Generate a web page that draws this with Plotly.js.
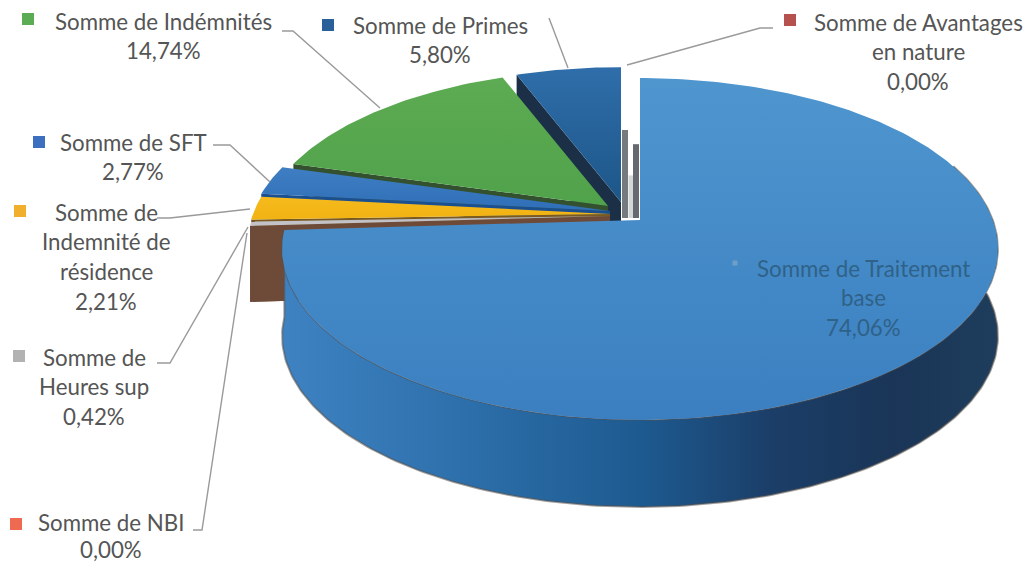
<!DOCTYPE html>
<html><head><meta charset="utf-8">
<script src="https://cdn.plot.ly/plotly-3.0.1.min.js"></script>
<style>html,body{margin:0;padding:0;background:#fff;overflow:hidden}#c{width:1024px;height:564px}</style>
</head><body><div id="c"></div>
<script>
// ---- data (percent) ----
const categories = ["Somme de Traitement base","Somme de NBI","Somme de Heures sup","Somme de Indemnité de résidence","Somme de SFT","Somme de Indémnités","Somme de Primes","Somme de Avantages en nature"];
const values = [74.06,0,0.42,2.21,2.77,14.74,5.80,0];

// ---- label text, line by line (the percent line is formatted from values) ----
const labelLines = [
  ["Somme de Traitement","base"],
  ["Somme de NBI"],
  ["Somme de","Heures sup"],
  ["Somme de","Indemnité de","résidence"],
  ["Somme de SFT"],
  ["Somme de Indémnités"],
  ["Somme de Primes"],
  ["Somme de Avantages","en nature"]
];

// ---- layout of the drawing, separate from the data ----
const labelPos = [[863,268],[111,522],[94,357],[106,212],[133,142],[163,21],[440,25],[918,22]];
const keyPos = [[735,263],[16,524],[19,356],[20,211],[39,142],[28,19],[328,25],[790,20]];
const keyColors = ["#6f9fc9","#ee6a50","#b2b2b2","#f0b02c","#3c6fc0","#5cab55","#2a6099","#b5524f"];
const apex = [[640,220],[610,216],[610,216],[610,214],[610,211],[608,206],[621,202],[625,218]];
const scaleR = [1,1,1,1,1,0.96,0.95,1];
const scaleXMain = 0.988;
const wallDepth = [87,76,76,12,12,30,60,0];
const topFill = [
  ["#4f96cf","#3b7fc0"],null,["#c2c2c8","#b4b4bc"],["#f6bb1e","#f2b414"],
  ["#3f7ec2","#2f6fb8"],["#5dab52","#50a24b"],["#2f6eaa","#1d5688"],null
];
const faceColors = ["#000",null,"#6e4a38","#7a5a20","#1a4f90","#33502f","#1b2f47",null];
const leaders = [
  [[282,31],[293,31],[380,108]],
  [[549,18],[568,68]],
  [[773,28],[760,28],[627,65]],
  [[213,145],[230,145],[270,182]],
  [[157,218],[170,218],[250,209]],
  [[157,363],[170,363],[248,227]],
  [[193,530],[202,530],[247,233]]
];
const RX = 357, RY = 166, PERSP = 0.1695, LINE_STEP = 29.7;

function proj(deg, ap, s, sx){
  const t = deg*Math.PI/180, X = Math.sin(t), Y = Math.cos(t), den = 1+PERSP*Y;
  return [ap[0]+RX*s*(sx||1)*X/den, ap[1]-RY*s*Y/den];
}
function arc(from, to, ap, s, sx){
  const pts = [], n = Math.max(2, Math.ceil(Math.abs(to-from)));
  for(let i=0;i<=n;i++) pts.push(proj(from+(to-from)*i/n, ap, s, sx));
  return pts;
}
function poly(pts, fill, extra){
  return Object.assign({
    type:"scatter", mode:"lines", x:pts.map(p=>p[0]), y:pts.map(p=>p[1]),
    fill:"toself", fillcolor:fill, line:{width:0,color:fill}, hoverinfo:"skip", showlegend:false
  }, extra||{});
}
function vgrad(c, y0, y1){
  return {fillgradient:{type:"vertical",start:y0,stop:y1,colorscale:[[0,c[0]],[1,c[1]]]}};
}

// start / end angle of every slice, from values
const total = values.reduce((a,b)=>a+b,0);
let acc = 0;
const spans = values.map(v=>{const a=acc/total*360; acc+=v; return [a,acc/total*360];});

const traces = [];
// slices behind the main one, far to near
[6,5,4,3,2].forEach(i=>{
  const [a,b] = spans[i], ap = apex[i], s = scaleR[i], d = wallDepth[i];
  const tip = proj(a, ap, s);
  traces.push(poly([tip, ap, [ap[0],ap[1]+d], [tip[0],tip[1]+d]], faceColors[i]));
  traces.push(poly([ap].concat(arc(a,b,ap,s)), topFill[i][0],
    vgrad(topFill[i], proj(b,ap,s)[1], ap[1])));
});
// zero-width slices show only as faces beside the main slice
function faceLine(i, dx, from, color, w){
  const ap = apex[i], p = proj(0,ap,1);
  return {type:"scatter",mode:"lines",x:[ap[0]+dx,ap[0]+dx],y:[ap[1]+from*(p[1]-ap[1]),ap[1]],
    line:{color:color,width:w},hoverinfo:"skip",showlegend:false};
}
traces.push(faceLine(7,0,0.62,"#747a7e",6));
traces.push(faceLine(7,6,0.30,"#d4d6d8",5));
traces.push(faceLine(7,11,0.52,"#666a70",6));
// brown face under the thin grey slice
{
  const tip = proj(spans[0][1], apex[2], 1), ap = apex[2], d = wallDepth[2];
  traces.push(poly([[tip[0],tip[1]+3],[ap[0],ap[1]+1],[ap[0],ap[1]+d],[tip[0]+3,tip[1]+d]], faceColors[2]));
}
// main slice: outer wall then top
{
  const ap = apex[0], d = wallDepth[0], end = spans[0][1];
  const up = arc(70,end,ap,1,scaleXMain), down = up.map(p=>[p[0],p[1]+d]).reverse();
  traces.push(poly(up.concat(down), "#2a6ca8", {
    line:{width:2,color:"rgba(85,80,75,0.55)"},
    fillgradient:{type:"horizontal",start:283,stop:1000,colorscale:[
      [0,"#3f82c2"],[0.22,"#2f72ae"],[0.5,"#1d5a90"],[0.68,"#1b3e68"],[0.85,"#1a3557"],[1,"#1e3d5c"]]}
  }));
  traces.push(poly([ap].concat(arc(0,end,ap,1,scaleXMain)), topFill[0][0], vgrad(topFill[0], 78, 420)));
}

// text: each label line, then its percent formatted from the value
const annotations = [];
labelLines.forEach((lines,i)=>{
  const color = i===0 ? "#2f6288" : "#555555";
  const txt = lines.concat([values[i].toFixed(2).replace(".",",")+"%"]);
  txt.forEach((t,j)=>annotations.push({
    xref:"x",yref:"y",x:labelPos[i][0],y:labelPos[i][1]+j*(i===1?27.5:LINE_STEP),text:t,showarrow:false,
    xanchor:"center",yanchor:"middle",font:{family:"Lato, 'Open Sans', sans-serif",size:22.3,color:color}
  }));
});
const shapes = [];
leaders.forEach(l=>shapes.push({type:"path",xref:"x",yref:"y",
  path:"M"+l.map(p=>p.join(",")).join("L"),line:{color:"#9a9a9a",width:1.4}}));
keyPos.forEach((p,i)=>{
  const h = i===0 ? 2.5 : 6;
  shapes.push({type:"rect",xref:"x",yref:"y",x0:p[0]-h,x1:p[0]+h,y0:p[1]-h,y1:p[1]+h,
    fillcolor:keyColors[i],line:{width:0}});
});

Plotly.newPlot("c",traces,{
  width:1024,height:564,margin:{l:0,r:0,t:0,b:0},showlegend:false,
  paper_bgcolor:"#fff",plot_bgcolor:"#fff",
  xaxis:{range:[0,1024],visible:false,fixedrange:true},
  yaxis:{range:[564,0],visible:false,fixedrange:true},
  annotations:annotations,shapes:shapes
},{staticPlot:true,displayModeBar:false});
</script></body></html>
